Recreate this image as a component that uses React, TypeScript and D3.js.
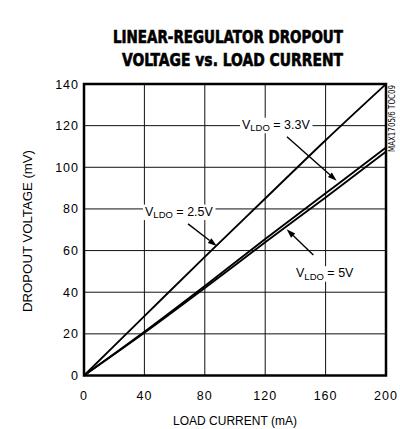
import React, { useLayoutEffect, useRef, useState } from "react";
import * as d3 from "d3";

const current = [0, 40, 80, 120, 160, 200];
const vldo25 = [0, 28.5, 57, 85, 113, 140];
const vldo33 = [0, 21, 43, 65.5, 87.5, 109.5];
const vldo50 = [0, 20.5, 42, 64, 85.5, 107.5];

const xTicks = [0, 40, 80, 120, 160, 200];
const yTicks = [0, 20, 40, 60, 80, 100, 120, 140];

const titleLines = ["LINEAR-REGULATOR DROPOUT", "VOLTAGE vs. LOAD CURRENT"];
const xTitle = "LOAD CURRENT (mA)";
const yTitle = "DROPOUT VOLTAGE (mV)";
const sideNote = "MAX1705/6 TOC09";

// annotations in data units: label anchor (mA, mV), arrow from -> to
const labels = [
  { sub: "LDO", value: " = 3.3V", at: [104.6, 118.5], from: [134.4, 114.7], to: [167.3, 93.5] },
  { sub: "LDO", value: " = 2.5V", at: [40.4, 76.8], from: [68.9, 72.8], to: [87.9, 62.2] },
  { sub: "LDO", value: " = 5V", at: [140.4, 47.2], from: [151.9, 57.9], to: [134.2, 70.2] },
];

const W = 400;
const H = 429;
const FONT = "'Liberation Sans', Arial, sans-serif";
const NARROW = "'Liberation Sans Narrow', 'DejaVu Sans Condensed', Arial, sans-serif";

const x = d3.scaleLinear().domain([0, 200]).range([84, 386]);
const y = d3.scaleLinear().domain([0, 140]).range([375.5, 84]);

const line = d3
  .line<number>()
  .x((_, i) => x(current[i]))
  .y((d) => y(d))
  .curve(d3.curveMonotoneX);

function Arrow({ from, to }: { from: number[]; to: number[] }) {
  const x1 = x(from[0]), y1 = y(from[1]), x2 = x(to[0]), y2 = y(to[1]);
  const ang = Math.atan2(y2 - y1, x2 - x1);
  const L = 9, Wd = 3;
  const bx = x2 - L * Math.cos(ang), by = y2 - L * Math.sin(ang);
  const px = -Math.sin(ang) * Wd, py = Math.cos(ang) * Wd;
  return (
    <g>
      <line x1={x1} y1={y1} x2={bx} y2={by} stroke="#000" strokeWidth={1.4} />
      <path d={`M${x2},${y2}L${bx + px},${by + py}L${bx - px},${by - py}Z`} fill="#000" />
    </g>
  );
}

export default function App() {
  const refs = useRef<(SVGTextElement | null)[]>([]);
  const [boxes, setBoxes] = useState<{ x: number; y: number; w: number; h: number }[]>([]);
  useLayoutEffect(() => {
    const b = refs.current.map((el) => {
      if (!el) return { x: 0, y: 0, w: 0, h: 0 };
      const bb = el.getBBox();
      return { x: bb.x - 2, y: bb.y, w: bb.width + 4, h: bb.height };
    });
    setBoxes(b);
  }, []);

  return (
    <svg width={W} height={H} style={{ position: "absolute", left: 0, top: 0, background: "#fff" }}>
      <rect width={W} height={H} fill="#fff" />
      {/* title */}
      <g fontFamily={NARROW} fontWeight="bold" fontSize={17.5} textAnchor="middle" stroke="#000" strokeWidth={0.6}>
        <text x={228} y={43} textLength={230} lengthAdjust="spacingAndGlyphs">{titleLines[0]}</text>
        <text x={232.5} y={66} textLength={221} lengthAdjust="spacingAndGlyphs">{titleLines[1]}</text>
      </g>
      {/* grid */}
      <g stroke="#111" strokeWidth={1}>
        {xTicks.slice(1, -1).map((t) => (
          <line key={"gx" + t} x1={x(t)} x2={x(t)} y1={y(140)} y2={y(0)} />
        ))}
        {yTicks.slice(1, -1).map((t) => (
          <line key={"gy" + t} x1={x(0)} x2={x(200)} y1={y(t)} y2={y(t)} />
        ))}
      </g>
      {/* label backgrounds */}
      {boxes.map((b, i) => (
        <rect key={"bg" + i} x={b.x} y={b.y} width={b.w} height={b.h} fill="#fff" />
      ))}
      {/* frame */}
      <rect x={x(0)} y={y(140)} width={x(200) - x(0)} height={y(0) - y(140)} fill="none" stroke="#000" strokeWidth={2.5} />
      {/* data lines */}
      <g fill="none" stroke="#000" strokeWidth={1.9}>
        <path d={line(vldo25) || ""} />
        <path d={line(vldo33) || ""} />
        <path d={line(vldo50) || ""} />
      </g>
      {/* annotations */}
      {labels.map((l, i) => (
        <g key={"lab" + i}>
          <text
            ref={(el) => { refs.current[i] = el; }}
            x={x(l.at[0])}
            y={y(l.at[1])}
            fontFamily={FONT}
            fontSize={12.5}
          >
            V
            <tspan fontSize={9.5} dy={2.5}>{l.sub}</tspan>
            <tspan dy={-2.5}>{l.value}</tspan>
          </text>
          <Arrow from={l.from} to={l.to} />
        </g>
      ))}
      {/* tick labels */}
      <g fontFamily={FONT} fontSize={12.5} letterSpacing={1}>
        {yTicks.map((t) => (
          <text key={"yl" + t} x={79} y={y(t)} dy="0.36em" textAnchor="end">{t}</text>
        ))}
        {xTicks.map((t) => (
          <text key={"xl" + t} x={x(t)} y={400} textAnchor="middle">{t}</text>
        ))}
      </g>
      <text x={235} y={425} fontFamily={FONT} fontSize={12} textAnchor="middle">{xTitle}</text>
      <text
        transform={`translate(32,231) rotate(-90)`}
        fontFamily={FONT}
        fontSize={12.5}
        textAnchor="middle"
        textLength={162}
        lengthAdjust="spacingAndGlyphs"
      >
        {yTitle}
      </text>
      <text
        transform={`translate(395,152) rotate(-90)`}
        fontFamily={NARROW}
        fontSize={8}
        textLength={67}
        lengthAdjust="spacingAndGlyphs"
      >
        {sideNote}
      </text>
    </svg>
  );
}
